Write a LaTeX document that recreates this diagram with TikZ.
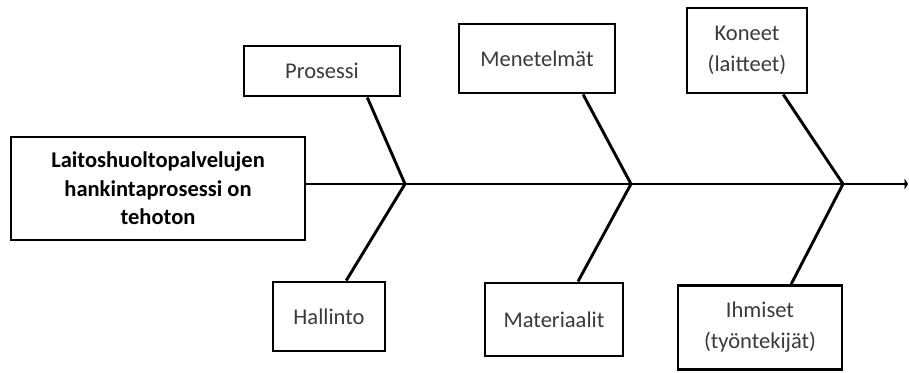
\documentclass[tikz,border=0pt]{standalone}
\usepackage{fontspec}
\setmainfont{Carlito}
\usetikzlibrary{calc,arrows.meta}
\definecolor{labelgray}{HTML}{3A3A3A}
\begin{document}
\begin{tikzpicture}[x=1pt,y=-1pt,
  cause/.style={draw=black, line width=2.9pt, fill=white, inner sep=0pt,
    align=center, text=labelgray, font=\fontsize{22.5}{31}\selectfont},
  effect/.style={draw=black, line width=2.9pt, fill=white, inner sep=0pt,
    align=center, text=black, font=\fontsize{22.5}{28.5}\selectfont\bfseries},
  bone/.style={line width=2.9pt},
  spine/.style={line width=2.6pt}]
\useasboundingbox (0,0) rectangle (909,372);

% problem statement (head of the fish)
\node[effect, minimum width=294pt, minimum height=103pt] (head) at (158,188.5)
  {Laitoshuoltopalvelujen\\hankintaprosessi on\\tehoton};

% cause categories
\node[cause, minimum width=156pt, minimum height=50pt] (pros) at (322,71) {Prosessi};
\node[cause, minimum width=156pt, minimum height=69pt] (mene) at (537,58.5) {Menetelmät};
\node[cause, minimum width=120pt, minimum height=85pt] (kone) at (747,50.5) {Koneet\\(laitteet)};
\node[cause, minimum width=112pt, minimum height=69pt] (hall) at (329,316.5) {Hallinto};
\node[cause, minimum width=138pt, minimum height=73pt] (mate) at (554,319.5) {Materiaalit};
\node[cause, minimum width=164pt, minimum height=84pt] (ihmi) at (760,327.5) {Ihmiset\\(työntekijät)};

% junctions on the spine
\coordinate (j1) at (405,184);
\coordinate (j2) at (631,184);
\coordinate (j3) at (843,184);
\coordinate (tail) at (908,184);

% spine
\draw[spine, -{Triangle[length=3.5pt,width=11pt]}] (head.east |- j1) -- (tail);

% bones
\draw[bone] ($(pros.south west)!0.785!(pros.south east)$) -- (j1);
\draw[bone] ($(hall.north west)!0.65!(hall.north east)$) -- (j1);
\draw[bone] ($(mene.south west)!0.79!(mene.south east)$) -- (j2);
\draw[bone] ($(mate.north west)!0.67!(mate.north east)$) -- (j2);
\draw[bone] ($(kone.south west)!0.795!(kone.south east)$) -- (j3);
\draw[bone] ($(ihmi.north west)!0.687!(ihmi.north east)$) -- (j3);
\end{tikzpicture}
\end{document}
